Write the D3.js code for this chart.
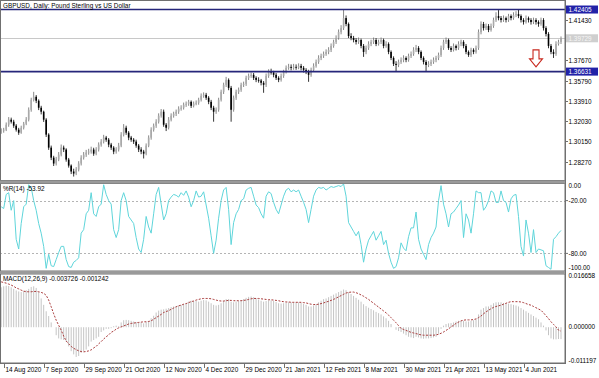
<!DOCTYPE html>
<html>
<head>
<meta charset="utf-8">
<script src="https://cdn.jsdelivr.net/npm/d3@7"></script>
<style>
  html, body { margin: 0; padding: 0; background: #fff; }
  svg { display: block; font-family: "Liberation Sans", Arial, sans-serif; }
</style>
</head>
<body>
<div id="chart"></div>
<script>
// GBPUSD daily, 13 Aug 2020 .. 25 Jun 2021
const candles = [ // [open, high, low, close]
  [1.3100,1.3135,1.3085,1.3114],[1.3114,1.3140,1.3095,1.3123],[1.3123,1.3190,1.3110,1.3169],[1.3169,1.3240,1.3150,1.3216],[1.3216,1.3235,1.3180,1.3197],
  [1.3197,1.3215,1.3140,1.3160],[1.3160,1.3175,1.3105,1.3123],[1.3123,1.3140,1.3075,1.3095],[1.3095,1.3160,1.3085,1.3141],[1.3141,1.3195,1.3125,1.3178],
  [1.3178,1.3240,1.3165,1.3216],[1.3216,1.3330,1.3200,1.3308],[1.3308,1.3420,1.3290,1.3401],[1.3401,1.3475,1.3385,1.3429],[1.3429,1.3445,1.3370,1.3392],
  [1.3392,1.3405,1.3305,1.3327],[1.3327,1.3345,1.3265,1.3290],[1.3290,1.3300,1.3195,1.3216],[1.3216,1.3230,1.3055,1.3077],[1.3077,1.3090,1.2935,1.2956],
  [1.2956,1.2975,1.2840,1.2863],[1.2863,1.2880,1.2785,1.2808],[1.2808,1.2870,1.2790,1.2845],[1.2845,1.2915,1.2830,1.2891],[1.2891,1.2985,1.2875,1.2956],
  [1.2956,1.2975,1.2915,1.2938],[1.2938,1.2950,1.2825,1.2845],[1.2845,1.2860,1.2770,1.2789],[1.2789,1.2800,1.2710,1.2734],[1.2734,1.2760,1.2687,1.2715],
  [1.2715,1.2775,1.2700,1.2752],[1.2752,1.2830,1.2735,1.2808],[1.2808,1.2885,1.2790,1.2863],[1.2863,1.2915,1.2845,1.2891],[1.2891,1.2935,1.2870,1.2910],
  [1.2910,1.2945,1.2890,1.2919],[1.2919,1.2965,1.2900,1.2938],[1.2938,1.2955,1.2880,1.2900],[1.2900,1.2960,1.2885,1.2938],[1.2938,1.3005,1.2920,1.2984],
  [1.2984,1.3035,1.2965,1.3012],[1.3012,1.3075,1.2995,1.3049],[1.3049,1.3065,1.3010,1.3030],[1.3030,1.3045,1.2960,1.2984],[1.2984,1.3000,1.2935,1.2956],
  [1.2956,1.2970,1.2895,1.2919],[1.2919,1.2960,1.2900,1.2938],[1.2938,1.3000,1.2920,1.2975],[1.2975,1.3100,1.2960,1.3077],[1.3077,1.3175,1.3060,1.3141],
  [1.3141,1.3160,1.3075,1.3095],[1.3095,1.3110,1.3025,1.3049],[1.3049,1.3065,1.3010,1.3030],[1.3030,1.3045,1.2990,1.3012],[1.3012,1.3030,1.2955,1.2975],
  [1.2975,1.2990,1.2915,1.2938],[1.2938,1.2960,1.2895,1.2919],[1.2919,1.2935,1.2855,1.2900],[1.2900,1.2995,1.2885,1.2975],[1.2975,1.3070,1.2960,1.3049],
  [1.3049,1.3145,1.3030,1.3123],[1.3123,1.3180,1.3105,1.3160],[1.3160,1.3220,1.3140,1.3197],[1.3197,1.3275,1.3180,1.3253],[1.3253,1.3315,1.3235,1.3290],
  [1.3290,1.3310,1.3150,1.3169],[1.3169,1.3185,1.3110,1.3141],[1.3141,1.3240,1.3125,1.3216],[1.3216,1.3275,1.3200,1.3253],[1.3253,1.3290,1.3235,1.3271],
  [1.3271,1.3310,1.3250,1.3290],[1.3290,1.3340,1.3270,1.3318],[1.3318,1.3350,1.3300,1.3327],[1.3327,1.3375,1.3310,1.3355],[1.3355,1.3385,1.3335,1.3364],
  [1.3364,1.3400,1.3345,1.3382],[1.3382,1.3395,1.3325,1.3345],[1.3345,1.3385,1.3330,1.3364],[1.3364,1.3395,1.3350,1.3373],[1.3373,1.3420,1.3355,1.3401],
  [1.3401,1.3460,1.3385,1.3438],[1.3438,1.3470,1.3420,1.3447],[1.3447,1.3465,1.3400,1.3420],[1.3420,1.3435,1.3360,1.3382],[1.3382,1.3400,1.3305,1.3327],
  [1.3327,1.3345,1.3197,1.3290],[1.3290,1.3330,1.3270,1.3308],[1.3308,1.3420,1.3290,1.3401],[1.3401,1.3495,1.3385,1.3475],[1.3475,1.3560,1.3455,1.3540],
  [1.3540,1.3614,1.3520,1.3586],[1.3586,1.3600,1.3490,1.3512],[1.3512,1.3530,1.3197,1.3308],[1.3308,1.3440,1.3290,1.3420],[1.3420,1.3495,1.3400,1.3475],
  [1.3475,1.3515,1.3455,1.3494],[1.3494,1.3560,1.3475,1.3540],[1.3540,1.3570,1.3520,1.3549],[1.3549,1.3625,1.3530,1.3605],[1.3605,1.3645,1.3585,1.3623],
  [1.3623,1.3655,1.3605,1.3633],[1.3633,1.3650,1.3585,1.3605],[1.3605,1.3620,1.3565,1.3586],[1.3586,1.3610,1.3560,1.3580],[1.3580,1.3595,1.3535,1.3559],
  [1.3559,1.3575,1.3466,1.3540],[1.3540,1.3645,1.3520,1.3623],[1.3623,1.3685,1.3605,1.3661],[1.3661,1.3690,1.3635,1.3655],[1.3655,1.3670,1.3610,1.3633],
  [1.3633,1.3650,1.3585,1.3605],[1.3605,1.3620,1.3565,1.3586],[1.3586,1.3645,1.3570,1.3623],[1.3623,1.3680,1.3605,1.3661],[1.3661,1.3720,1.3645,1.3698],
  [1.3698,1.3735,1.3680,1.3707],[1.3707,1.3730,1.3675,1.3698],[1.3698,1.3735,1.3680,1.3707],[1.3707,1.3730,1.3680,1.3700],[1.3700,1.3740,1.3685,1.3716],
  [1.3716,1.3735,1.3675,1.3698],[1.3698,1.3715,1.3655,1.3679],[1.3679,1.3695,1.3640,1.3661],[1.3661,1.3680,1.3568,1.3633],[1.3633,1.3700,1.3615,1.3679],
  [1.3679,1.3740,1.3660,1.3716],[1.3716,1.3775,1.3700,1.3753],[1.3753,1.3815,1.3735,1.3790],[1.3790,1.3830,1.3770,1.3809],[1.3809,1.3850,1.3790,1.3827],
  [1.3827,1.3870,1.3810,1.3846],[1.3846,1.3890,1.3825,1.3865],[1.3865,1.3925,1.3845,1.3902],[1.3902,1.3960,1.3885,1.3939],[1.3939,1.4000,1.3920,1.3976],
  [1.3976,1.4055,1.3960,1.4031],[1.4031,1.4095,1.4010,1.4068],[1.4068,1.4240,1.4050,1.4161],[1.4161,1.4185,1.4085,1.4106],[1.4106,1.4120,1.3975,1.3994],
  [1.3994,1.4020,1.3955,1.3976],[1.3976,1.3995,1.3935,1.3957],[1.3957,1.3975,1.3915,1.3939],[1.3939,1.3980,1.3920,1.3957],[1.3957,1.3970,1.3880,1.3902],
  [1.3902,1.3920,1.3800,1.3846],[1.3846,1.3905,1.3825,1.3883],[1.3883,1.3945,1.3865,1.3920],[1.3920,1.3960,1.3900,1.3939],[1.3939,1.3980,1.3920,1.3957],
  [1.3957,1.3975,1.3900,1.3920],[1.3920,1.3960,1.3905,1.3939],[1.3939,1.3980,1.3920,1.3957],[1.3957,1.3970,1.3880,1.3902],[1.3902,1.3945,1.3885,1.3920],
  [1.3920,1.3935,1.3825,1.3846],[1.3846,1.3860,1.3770,1.3790],[1.3790,1.3805,1.3715,1.3735],[1.3735,1.3760,1.3663,1.3725],[1.3725,1.3775,1.3705,1.3753],
  [1.3753,1.3795,1.3735,1.3772],[1.3772,1.3815,1.3750,1.3790],[1.3790,1.3805,1.3750,1.3772],[1.3772,1.3830,1.3755,1.3809],[1.3809,1.3850,1.3790,1.3827],
  [1.3827,1.3890,1.3810,1.3865],[1.3865,1.3911,1.3845,1.3883],[1.3883,1.3900,1.3825,1.3846],[1.3846,1.3860,1.3770,1.3790],[1.3790,1.3805,1.3730,1.3753],
  [1.3753,1.3770,1.3663,1.3725],[1.3725,1.3760,1.3705,1.3735],[1.3735,1.3775,1.3715,1.3753],[1.3753,1.3795,1.3735,1.3772],[1.3772,1.3810,1.3750,1.3790],
  [1.3790,1.3840,1.3770,1.3818],[1.3818,1.3905,1.3800,1.3883],[1.3883,1.3960,1.3865,1.3939],[1.3939,1.3980,1.3920,1.3957],[1.3957,1.3970,1.3865,1.3883],
  [1.3883,1.3900,1.3845,1.3865],[1.3865,1.3925,1.3850,1.3902],[1.3902,1.3915,1.3860,1.3883],[1.3883,1.3945,1.3865,1.3920],[1.3920,1.3960,1.3900,1.3939],
  [1.3939,1.3955,1.3880,1.3902],[1.3902,1.3920,1.3825,1.3846],[1.3846,1.3860,1.3800,1.3818],[1.3818,1.3885,1.3800,1.3865],[1.3865,1.3880,1.3825,1.3846],
  [1.3846,1.3905,1.3830,1.3883],[1.3883,1.4055,1.3865,1.4031],[1.4031,1.4130,1.4010,1.4106],[1.4106,1.4125,1.4045,1.4068],[1.4068,1.4110,1.4050,1.4087],
  [1.4087,1.4105,1.4030,1.4050],[1.4050,1.4110,1.4035,1.4087],[1.4087,1.4165,1.4070,1.4143],[1.4143,1.4215,1.4125,1.4180],[1.4180,1.4235,1.4140,1.4161],
  [1.4161,1.4180,1.4120,1.4143],[1.4143,1.4185,1.4125,1.4161],[1.4161,1.4175,1.4120,1.4143],[1.4143,1.4200,1.4125,1.4180],[1.4180,1.4195,1.4140,1.4161],
  [1.4161,1.4215,1.4145,1.4189],[1.4189,1.4225,1.4170,1.4198],[1.4198,1.4240,1.4160,1.4180],[1.4180,1.4195,1.4120,1.4143],[1.4143,1.4160,1.4100,1.4124],
  [1.4124,1.4185,1.4110,1.4161],[1.4161,1.4175,1.4120,1.4143],[1.4143,1.4160,1.4100,1.4124],[1.4124,1.4165,1.4105,1.4143],[1.4143,1.4160,1.4100,1.4124],
  [1.4124,1.4140,1.4080,1.4106],[1.4106,1.4165,1.4090,1.4143],[1.4143,1.4160,1.4045,1.4068],[1.4068,1.4085,1.3990,1.4013],[1.4013,1.4030,1.3880,1.3902],
  [1.3902,1.3920,1.3825,1.3846],[1.3846,1.3870,1.3790,1.3827],[1.3827,1.3945,1.3810,1.3920],[1.3920,1.3960,1.3905,1.3939],[1.3939,1.3990,1.3920,1.3973]
];

// Williams %R(14), one value per bar
const wpr = [
  -27,-29,-13,-11,-31,-20,-64,-75,-46,-27, -24,-2,-5,-20,-31,-46,-57,-72,-97,-81,
  -94,-95,-87,-79,-72,-72,-87,-95,-96,-90, -88,-85,-57,-53,-35,-31,-11,-35,-38,-27,
  -24,-2,-13,-20,-24,-53,-62,-53,-20,-11, -20,-38,-42,-46,-62,-75,-79,-64,-38,-50,
  -57,-35,-13,-5,-24,-42,-35,-20,-16,-13, -14,-16,-11,-14,-9,-16,-27,-20,-9,-16,
  -15,-10,-25,-40,-60,-80,-65,-40,-20,-8, -5,-30,-70,-45,-35,-30,-20,-18,-8,-6,
  -5,-15,-25,-28,-35,-40,-15,-10,-12,-22, -30,-35,-25,-15,-8,-6,-10,-8,-10,-8,
  -15,-22,-30,-45,-30,-15,-8,-5,-6,-5, -8,-6,-4,-5,-4,-3,-4,-1,-15,-45,
  -50,-55,-60,-55,-70,-90,-75,-65,-60,-55, -65,-60,-55,-70,-65,-80,-90,-97,-95,-85,
  -68,-74,-77,-61,-51,-51,-33,-64,-75,-81, -87,-70,-62,-57,-50,-20,-3,-24,-35,-50,
  -35,-33,-29,-25,-20,-62,-35,-42,-57,-35, -9,-11,-11,-31,-27,-20,-9,-11,-22,-22,
  -9,-20,-22,-33,-18,-14,-13,-38,-72,-83, -42,-57,-79,-53,-79,-75,-76,-77,-94,-96,
  -98,-64,-61,-57,-53.92
];

// MACD(12,26,9) main (histogram) and signal, in thousandths
const macdMain = [
  12.5,12.8,13.0,12.9,12.5,12.0,11.5,11.2,11.0,11.3, 11.6,12.0,12.6,12.8,12.3,11.0,9.0,7.0,5.0,3.5,
  1.5,0.0,-2.5,-3.5,-3.8,-4.0,-4.5,-6.0,-7.5,-8.5, -9.3,-9.0,-8.0,-7.5,-7.0,-6.0,-4.5,-4.0,-3.5,-3.0,
  -1.5,-1.0,-0.5,-0.5,-0.3,0.3,0.5,0.3,1.5,2.2, 2.3,2.2,2.0,1.8,1.6,1.5,1.5,1.2,1.6,2.0,
  2.8,3.6,4.6,5.2,5.5,5.6,5.8,6.0,6.3,6.5, 6.6,6.8,7.0,7.3,7.5,8.0,8.3,8.2,8.2,8.0,
  8.3,8.5,8.4,8.0,7.5,7.0,6.8,7.0,7.5,8.2, 8.8,8.8,8.0,7.8,8.0,8.2,8.5,8.8,9.2,9.5,
  9.6,9.4,9.0,8.7,8.3,8.0,8.2,8.4,8.4,8.2, 7.9,7.5,7.4,7.5,7.7,7.8,7.8,7.8,7.8,7.8,
  7.6,7.3,7.0,6.5,6.5,6.8,7.2,7.8,8.3,8.8, 9.0,9.4,9.8,10.2,10.6,11.0,11.4,11.8,11.6,11.0,
  10.4,9.8,9.2,8.6,8.0,7.2,6.6,6.1,5.7,5.3, 4.8,4.4,4.0,3.4,2.8,2.0,1.0,0.0,-0.8,-1.2,
  -1.5,-2.0,-2.5,-3.0,-3.2,-3.4,-3.0,-3.2,-3.5,-3.6, -3.5,-3.5,-3.4,-3.2,-3.0,-2.0,-0.5,0.5,1.0,1.2,
  1.3,1.5,1.8,2.0,2.0,2.0,1.8,1.8,2.0,2.2, 2.5,4.0,5.5,6.0,6.5,6.5,7.0,7.5,7.8,7.8,
  7.8,7.6,7.5,7.4,7.2,7.0,6.8,6.5,6.0,5.5, 5.0,4.5,4.0,3.5,3.0,2.5,1.5,0.5,-1.0,-2.5,
  -3.5,-3.8,-3.8,-3.7,-3.726
];
const macdSignal = [
  14.2,14.0,13.8,13.5,13.2,12.8,12.3,12.0,11.6,11.3, 11.1,11.1,11.1,11.2,11.2,11.1,10.9,10.6,10.0,8.5,
  6.4,4.2,2.2,0.6,-0.9,-2.8,-4.3,-5.2,-6.0,-6.6, -7.0,-7.4,-7.6,-7.7,-7.6,-7.4,-7.1,-6.5,-6.0,-5.2,
  -4.5,-3.7,-3.0,-2.4,-1.6,-1.2,-0.6,-0.2,0.1,0.4, 0.7,1.0,1.2,1.3,1.4,1.5,1.6,1.7,1.7,1.8,
  2.0,2.5,3.0,3.5,4.0,4.6,4.9,5.2,5.6,6.0, 6.4,6.7,6.9,7.2,7.4,7.7,8.0,8.2,8.5,8.7,
  8.9,9.0,9.0,9.0,8.9,8.7,8.5,8.3,8.2,8.2, 8.3,8.4,8.4,8.3,8.3,8.3,8.3,8.4,8.5,8.7,
  8.9,9.0,9.0,9.0,8.9,8.8,8.7,8.6,8.6,8.5, 8.4,8.3,8.1,8.0,7.9,7.9,7.8,7.8,7.8,7.8,
  7.8,7.7,7.6,7.4,7.2,7.1,7.1,7.2,7.4,7.6, 7.9,8.1,8.4,8.7,9.1,9.5,9.9,10.3,10.7,10.9,
  11.0,11.0,10.8,10.5,10.1,9.7,9.2,8.7,8.1,7.5, 6.9,6.3,5.7,5.1,4.5,3.8,3.0,2.2,1.4,0.5,
  -0.4,-0.7,-1.0,-1.3,-1.6,-1.8,-2.0,-2.2,-2.4,-2.5, -2.5,-2.5,-2.5,-2.5,-2.4,-2.2,-1.9,-1.5,-1.0,-0.5,
  0.1,0.6,1.2,1.6,2.0,2.2,2.3,2.3,2.3,2.4, 2.6,3.0,3.5,4.2,4.8,5.3,5.8,6.2,6.5,6.7,
  6.9,7.2,7.5,7.8,8.0,8.0,8.0,8.0,7.9,7.7, 7.4,7.1,6.9,6.5,6.1,5.7,5.3,4.5,3.6,2.7,
  1.7,0.9,0.1,-0.9,-1.242
];

const dateTicks = [
  [1,'14 Aug 2020'],[17,'7 Sep 2020'],[33,'29 Sep 2020'],[49,'21 Oct 2020'],[65,'12 Nov 2020'],
  [81,'4 Dec 2020'],[97,'29 Dec 2020'],[113,'21 Jan 2021'],[129,'12 Feb 2021'],[145,'8 Mar 2021'],
  [161,'30 Mar 2021'],[177,'21 Apr 2021'],[193,'13 May 2021'],[209,'4 Jun 2021']
];
const priceTicks = [1.28270, 1.30150, 1.32030, 1.33910, 1.35790, 1.37670, 1.41430];
const levelLines = [1.42405, 1.36631];
const bidPrice = 1.39729;
const wprLevels = [-20, -80];
const wprTicks = [0, -20, -80, -100];
const macdTicks = [16.658, 0, -11.197];
const arrowMark = { bar: 214, price: 1.3865 };

const W = 599, H = 378, plotR = 565;
const svg = d3.select('#chart').append('svg').attr('width', W).attr('height', H);
svg.append('rect').attr('width', W).attr('height', H).attr('fill', '#fff');

const N = candles.length;
const x = d3.scaleLinear().domain([0, N - 1]).range([1.2, 561]);
const yP = d3.scaleLinear().domain([1.28270, 1.41430]).range([161.5, 20]);
const yW = d3.scaleLinear().domain([0, -100]).range([183, 271]);
const yM = d3.scaleLinear().domain([16.658, -11.197]).range([274, 363]);

const panels = [[0, 181], [183, 271.5], [273.5, 363.5]];
const defs = svg.append('defs');
panels.forEach((p, i) => {
  defs.append('clipPath').attr('id', 'clip' + i).append('rect')
    .attr('x', 0).attr('y', p[0]).attr('width', plotR).attr('height', p[1] - p[0]);
});

const font = 6.4;

// ---- main price panel
const gMain = svg.append('g').attr('clip-path', 'url(#clip0)');

gMain.append('line')
  .attr('x1', 0).attr('x2', plotR)
  .attr('y1', Math.round(yP(bidPrice)) + 0.5).attr('y2', Math.round(yP(bidPrice)) + 0.5)
  .attr('stroke', '#c8c8c8').attr('stroke-width', 1);

const bars = gMain.selectAll('.candle').data(candles).enter().append('g').attr('class', 'candle');
bars.append('line')
  .attr('x1', (d, i) => x(i)).attr('x2', (d, i) => x(i))
  .attr('y1', d => yP(d[1])).attr('y2', d => yP(d[2]))
  .attr('stroke', d => d[3] >= d[0] ? '#6a6a6a' : '#000')
  .attr('stroke-width', 0.8);
bars.append('rect')
  .attr('x', (d, i) => x(i) - 0.8).attr('width', 1.6)
  .attr('y', d => yP(Math.max(d[0], d[3])))
  .attr('height', d => Math.max(0.8, Math.abs(yP(d[0]) - yP(d[3]))))
  .attr('fill', d => d[3] >= d[0] ? '#a9a9a9' : '#000');

gMain.selectAll('.level').data(levelLines).enter().append('line')
  .attr('x1', 0).attr('x2', plotR)
  .attr('y1', d => yP(d)).attr('y2', d => yP(d))
  .attr('stroke', '#26267a').attr('stroke-width', 1.6);

// down arrow annotation
const ax = x(arrowMark.bar), ay = yP(arrowMark.price);
gMain.append('path')
  .attr('d', `M${ax - 3},${ay} h6 v9 h3.5 l-6.5,8 l-6.5,-8 h3.5 Z`)
  .attr('fill', '#fff').attr('stroke', '#c8281e').attr('stroke-width', 1.1);

svg.append('text').attr('x', 3).attr('y', 8).attr('font-size', font).attr('fill', '#000')
  .text('GBPUSD, Daily:  Pound Sterling vs US Dollar');

// ---- Williams %R panel
const gW = svg.append('g').attr('clip-path', 'url(#clip1)');
gW.selectAll('.lvl').data(wprLevels).enter().append('line')
  .attr('x1', 0).attr('x2', plotR)
  .attr('y1', d => Math.round(yW(d)) + 0.5).attr('y2', d => Math.round(yW(d)) + 0.5)
  .attr('stroke', '#b4b4b4').attr('stroke-dasharray', '2,2').attr('stroke-width', 1);
gW.append('path').datum(wpr)
  .attr('d', d3.line().x((d, i) => x(i)).y(d => yW(d)))
  .attr('fill', 'none').attr('stroke', '#5fd5da').attr('stroke-width', 1);
svg.append('text').attr('x', 3).attr('y', 191).attr('font-size', font).text('%R(14) -53.92');

// ---- MACD panel
const gM = svg.append('g').attr('clip-path', 'url(#clip2)');
gM.selectAll('.hist').data(macdMain).enter().append('line')
  .attr('x1', (d, i) => x(i)).attr('x2', (d, i) => x(i))
  .attr('y1', yM(0)).attr('y2', d => yM(d))
  .attr('stroke', '#c4c4c4').attr('stroke-width', 1);
gM.append('path').datum(macdSignal)
  .attr('d', d3.line().x((d, i) => x(i)).y(d => yM(d)))
  .attr('fill', 'none').attr('stroke', '#a83a3a').attr('stroke-width', 1)
  .attr('stroke-dasharray', '2,1.5');
svg.append('text').attr('x', 3).attr('y', 281).attr('font-size', font)
  .text('MACD(12,26,9) -0.003726 -0.001242');

// ---- frames and separators
panels.forEach(p => {
  svg.append('rect').attr('x', 0.5).attr('y', p[0] + 0.5)
    .attr('width', plotR - 0.5).attr('height', p[1] - p[0] - 1)
    .attr('fill', 'none').attr('stroke', '#707070').attr('stroke-width', 1);
});
svg.append('rect').attr('x', 0).attr('y', 180.5).attr('width', plotR + 1).attr('height', 3).attr('fill', '#9a9a9a');
svg.append('rect').attr('x', 0).attr('y', 271).attr('width', plotR + 1).attr('height', 3).attr('fill', '#9a9a9a');
svg.append('line').attr('x1', plotR + 0.5).attr('x2', plotR + 0.5).attr('y1', 0).attr('y2', 364)
  .attr('stroke', '#707070');

// ---- right axes
const axisG = svg.append('g').attr('font-size', font).attr('fill', '#000');
function rightTick(yy, label) {
  axisG.append('line').attr('x1', plotR).attr('x2', plotR + 3).attr('y1', yy).attr('y2', yy)
    .attr('stroke', '#707070');
  axisG.append('text').attr('x', plotR + 3.5).attr('y', yy + 2.2).text(label);
}
priceTicks.forEach(v => rightTick(Math.round(yP(v)) + 0.5, v.toFixed(5)));

function priceBox(v, fill, textFill) {
  const yy = yP(v);
  axisG.append('rect').attr('x', plotR + 1).attr('y', yy - 4).attr('width', 32).attr('height', 8)
    .attr('fill', fill);
  axisG.append('text').attr('x', plotR + 3.5).attr('y', yy + 2.3).attr('fill', textFill).text(v.toFixed(5));
}
priceBox(bidPrice, '#cfcfcf', '#f6f6f6');
levelLines.forEach(v => priceBox(v, '#2222a8', '#fff'));

const wprLabelY = { '0': 186, '-20': yW(-20), '-80': yW(-80), '-100': 268 };
wprTicks.forEach(v => {
  axisG.append('text').attr('x', plotR + 3.5).attr('y', wprLabelY[String(v)] + 2.2).text(v.toFixed(2));
  if (v === -20 || v === -80) {
    axisG.append('line').attr('x1', plotR).attr('x2', plotR + 3).attr('y1', yW(v)).attr('y2', yW(v)).attr('stroke', '#707070');
  }
});
macdTicks.forEach((v, i) => {
  const yy = i === 0 ? 276 : i === 2 ? 361 : yM(v);
  axisG.append('text').attr('x', plotR + 3.5).attr('y', yy + 2.2).text((v / 1000).toFixed(6));
});

// ---- date axis
svg.append('line').attr('x1', 0).attr('x2', plotR + 1).attr('y1', 363.5).attr('y2', 363.5).attr('stroke', '#707070');
const dG = svg.append('g').attr('font-size', font);
dateTicks.forEach(t => {
  const xx = Math.round(x(t[0])) + 0.5;
  dG.append('line').attr('x1', xx).attr('x2', xx).attr('y1', 364).attr('y2', 368).attr('stroke', '#707070');
  dG.append('text').attr('x', xx + 1).attr('y', 372).text(t[1]);
});
</script>
</body>
</html>
